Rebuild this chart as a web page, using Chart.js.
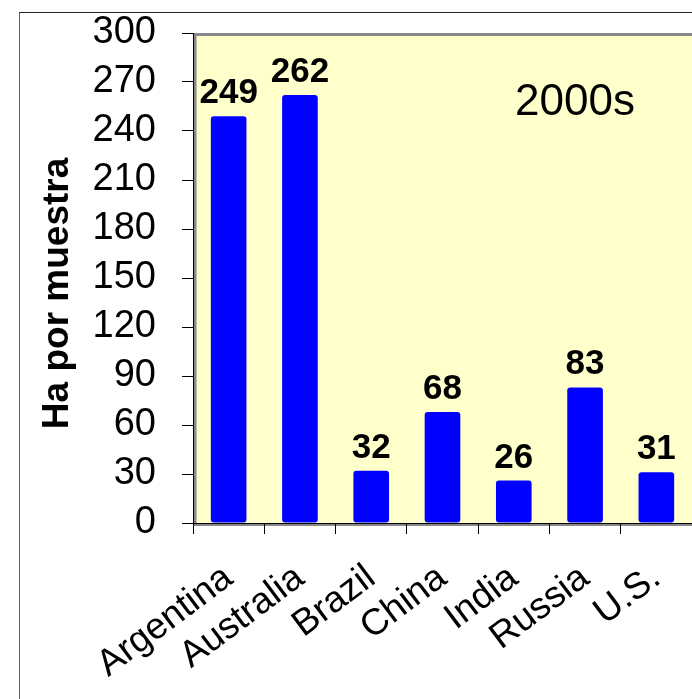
<!DOCTYPE html>
<html>
<head>
<meta charset="utf-8">
<script src="https://cdn.jsdelivr.net/npm/chart.js@4.4.0/dist/chart.umd.min.js"></script>
<style>
    html, body { margin: 0; padding: 0; background: #fff; }
    #wrap { position: relative; width: 692px; height: 699px; overflow: hidden; }
    #frame { position: absolute; left: 19px; top: 12px; width: 700px; height: 700px; border-left: 1px solid #666; border-top: 1px solid #222; }
    canvas { position: absolute; left: 0; top: 0; }
</style>
</head>
<body>
<div id="wrap">
    <div id="frame"></div>
    <canvas id="chart" width="692" height="699"></canvas>
</div>
<script>
const countries = ['Argentina', 'Australia', 'Brazil', 'China', 'India', 'Russia', 'U.S.'];
const haPerSample = [249, 262, 32, 68, 26, 83, 31];
const yTicks = [0, 30, 60, 90, 120, 150, 180, 210, 240, 270, 300];
const axisTitle = 'Ha por muestra';
const periodLabel = '2000s';

const FONT = 'Arial, "Liberation Sans", sans-serif';

// yellow plot area with the grey bevel on top / left / bottom
const plotBg = {
    id: 'plotBg',
    beforeDraw(chart) {
        const { ctx, chartArea: a } = chart;
        ctx.save();
        ctx.fillStyle = '#FFFFCC';
        ctx.fillRect(a.left, a.top, a.right - a.left, a.bottom - a.top);
        ctx.strokeStyle = '#888';
        ctx.lineWidth = 3;
        ctx.beginPath();
        ctx.moveTo(a.left + 2, a.bottom);
        ctx.lineTo(a.left + 2, a.top + 1.5);
        ctx.lineTo(a.right, a.top + 1.5);
        ctx.stroke();
        ctx.lineWidth = 2;
        ctx.beginPath();
        ctx.moveTo(a.left, a.bottom + 2);
        ctx.lineTo(a.right, a.bottom + 2);
        ctx.stroke();
        ctx.restore();
    }
};

// value labels over the bars + the period label
const barLabels = {
    id: 'barLabels',
    afterDatasetsDraw(chart) {
        const { ctx, chartArea: a } = chart;
        const meta = chart.getDatasetMeta(0);
        ctx.save();
        ctx.fillStyle = '#000';
        ctx.textAlign = 'center';
        ctx.textBaseline = 'alphabetic';
        ctx.font = 'bold 35px ' + FONT;
        meta.data.forEach((bar, i) => {
            ctx.fillText(String(haPerSample[i]), bar.x, bar.y - 13);
        });
        ctx.font = '44px ' + FONT;
        ctx.fillText(periodLabel, a.left + 382, a.top + 82);
        ctx.restore();
    }
};

new Chart(document.getElementById('chart'), {
    type: 'bar',
    data: {
        labels: countries,
        datasets: [{
            data: haPerSample,
            backgroundColor: '#0000FF',
            borderWidth: 0,
            borderRadius: 3,
            borderSkipped: false,
            barPercentage: 0.5,
            categoryPercentage: 1.0
        }]
    },
    options: {
        responsive: false,
        animation: false,
        devicePixelRatio: 1,
        layout: { padding: { top: 33, right: 0, bottom: 0, left: 0 } },
        plugins: {
            legend: { display: false },
            tooltip: { enabled: false }
        },
        scales: {
            x: {
                afterFit: s => { s.height = 176; s.paddingLeft = 0; s.paddingRight = 0; },
                grid: { offset: true, drawOnChartArea: false, drawTicks: true, tickLength: 11, color: '#000' },
                border: { display: true, color: '#000', width: 1 },
                ticks: {
                    color: '#000',
                    font: { family: FONT, size: 37 },
                    minRotation: 37,
                    maxRotation: 37,
                    autoSkip: false,
                    padding: 22
                }
            },
            y: {
                min: 0,
                max: 300,
                afterFit: s => { s.width = 193; s.paddingTop = 0; s.paddingBottom = 0; },
                afterBuildTicks: s => { s.ticks = yTicks.map(v => ({ value: v })); },
                grid: { drawOnChartArea: false, drawTicks: true, tickLength: 11, color: '#000' },
                border: { display: true, color: '#000', width: 1 },
                ticks: {
                    color: '#000',
                    font: { family: FONT, size: 38 },
                    padding: 26,
                    autoSkip: false
                },
                title: {
                    display: true,
                    text: axisTitle + '   ',
                    color: '#000',
                    font: { family: FONT, size: 37, weight: 'bold' },
                    padding: { top: 36, bottom: 0 }
                }
            }
        }
    },
    plugins: [plotBg, barLabels]
});
</script>
</body>
</html>
